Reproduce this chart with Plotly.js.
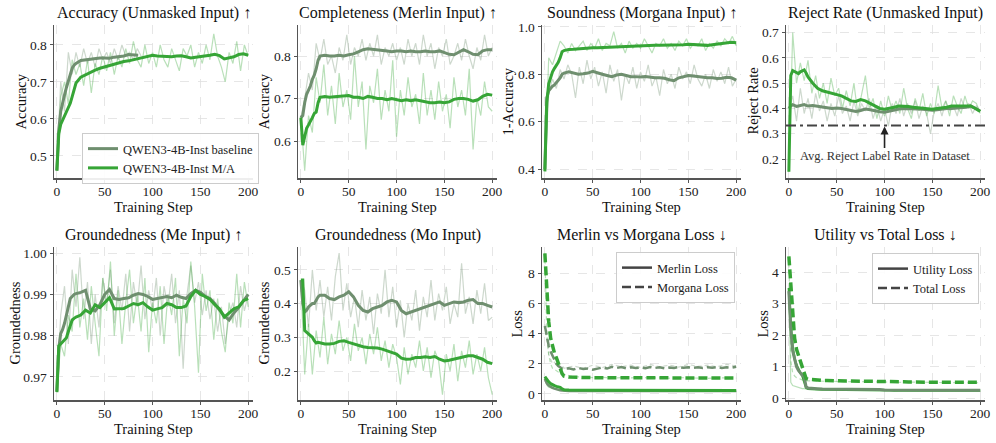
<!DOCTYPE html>
<html>
<head>
<meta charset="utf-8">
<script src="https://cdn.plot.ly/plotly-3.0.1.min.js"></script>
<style>
  html, body { margin: 0; padding: 0; background: #fff; }
  #chart { width: 996px; height: 443px; }
</style>
</head>
<body>
<div id="chart"></div>
<script>
// training steps (smoothed curves / raw curves)
const SMOOTH_STEPS = [0, 2, 4, 6, 8, 10, 12, 14, 16, 18, 20, 25, 30, 35, 40, 45, 50, 55, 60, 65, 70, 75, 80, 85, 90, 95, 100,
  105, 110, 115, 120, 125, 130, 135, 140, 145, 150, 155, 160, 165, 170, 175, 180, 185, 190, 195, 200];
const RAW_STEPS = [0, 4, 8, 12, 16, 20, 24, 28, 32, 36, 40, 44, 48, 52, 56, 60, 64, 68, 72, 76, 80, 84, 88, 92, 96, 100,
  104, 108, 112, 116, 120, 124, 128, 132, 136, 140, 144, 148, 152, 156, 160, 164, 168, 172, 176, 180, 184, 188, 192, 196, 200];
const LOSS_RAW_STEPS = [0, 2, 4, 6, 8, 10, 12, 14, 16, 18, 20, 30, 40, 50, 60, 70, 80, 90, 100, 110, 120, 130, 140, 150,
  160, 170, 180, 190, 200];

// Accuracy (Unmasked Input)
const ACC_MA = [0.46, 0.56, 0.585, 0.597, 0.608, 0.616, 0.628, 0.642, 0.66, 0.68, 0.697,
  0.713, 0.72, 0.727, 0.732, 0.737, 0.741, 0.744, 0.748, 0.751, 0.755,
  0.757, 0.76, 0.764, 0.768, 0.771, 0.772, 0.77, 0.769, 0.77, 0.768,
  0.77, 0.771, 0.768, 0.765, 0.767, 0.768, 0.77, 0.772, 0.775, 0.771,
  0.762, 0.765, 0.768, 0.774, 0.776, 0.772];
const ACC_BASE = [0.46, 0.57, 0.62, 0.645, 0.665, 0.685, 0.705, 0.722, 0.737, 0.745, 0.75,
  0.758, 0.76, 0.762, 0.763, 0.765, 0.765, 0.764, 0.767, 0.768, 0.77,
  0.774, 0.773, 0.772];
const ACC_MA_RAW = [0.46, 0.66, 0.70, 0.64, 0.76, 0.72, 0.75, 0.69, 0.76, 0.67,
  0.75, 0.72, 0.77, 0.73, 0.78, 0.72, 0.77, 0.74, 0.79, 0.75,
  0.81, 0.76, 0.74, 0.80, 0.75, 0.78, 0.74, 0.80, 0.76, 0.74,
  0.79, 0.76, 0.73, 0.79, 0.77, 0.80, 0.74, 0.78, 0.75, 0.80,
  0.76, 0.83, 0.77, 0.74, 0.70, 0.78, 0.75, 0.81, 0.73, 0.80, 0.77];
const ACC_BASE_RAW = [0.47, 0.70, 0.62, 0.78, 0.72, 0.78, 0.74, 0.79, 0.75, 0.78,
  0.74, 0.79, 0.76, 0.78, 0.75, 0.79, 0.76, 0.80, 0.77, 0.78,
  0.76, 0.79, 0.77];

// Completeness (Merlin Input)
const COMP_BASE = [0.655, 0.66, 0.69, 0.71, 0.72, 0.73, 0.745, 0.755, 0.77, 0.79, 0.80,
  0.802, 0.80, 0.80, 0.802, 0.80, 0.803, 0.805, 0.81, 0.815, 0.817,
  0.816, 0.815, 0.813, 0.812, 0.81, 0.812, 0.812, 0.81, 0.812, 0.81,
  0.81, 0.812, 0.81, 0.81, 0.812, 0.808, 0.804, 0.803, 0.81, 0.815,
  0.81, 0.804, 0.803, 0.812, 0.815, 0.815];
const COMP_MA = [0.655, 0.59, 0.61, 0.63, 0.638, 0.645, 0.655, 0.665, 0.668, 0.69, 0.703,
  0.705, 0.703, 0.704, 0.705, 0.705, 0.707, 0.703, 0.703, 0.70, 0.705,
  0.703, 0.70, 0.70, 0.697, 0.70, 0.697, 0.695, 0.697, 0.695, 0.697,
  0.695, 0.693, 0.69, 0.69, 0.692, 0.69, 0.692, 0.698, 0.70, 0.70,
  0.698, 0.694, 0.697, 0.705, 0.71, 0.708];
const COMP_BASE_RAW = [0.655, 0.70, 0.76, 0.72, 0.83, 0.79, 0.84, 0.78, 0.80, 0.76,
  0.82, 0.79, 0.85, 0.78, 0.82, 0.80, 0.84, 0.79, 0.83, 0.80,
  0.85, 0.78, 0.82, 0.80, 0.83, 0.79, 0.82, 0.78, 0.84, 0.80,
  0.83, 0.78, 0.85, 0.80, 0.83, 0.77, 0.82, 0.80, 0.84, 0.78,
  0.80, 0.83, 0.79, 0.84, 0.80, 0.77, 0.82, 0.79, 0.85, 0.80, 0.82];
const COMP_MA_RAW = [0.655, 0.53, 0.66, 0.62, 0.75, 0.69, 0.78, 0.66, 0.73, 0.64,
  0.76, 0.68, 0.72, 0.65, 0.80, 0.68, 0.74, 0.58, 0.73, 0.69,
  0.77, 0.65, 0.72, 0.67, 0.79, 0.61, 0.72, 0.66, 0.75, 0.68,
  0.71, 0.64, 0.76, 0.66, 0.72, 0.65, 0.74, 0.67, 0.71, 0.63,
  0.75, 0.68, 0.72, 0.66, 0.77, 0.58, 0.70, 0.66, 0.74, 0.68, 0.67];

// Soundness (Morgana Input)
const SOUND_MA = [0.39, 0.68, 0.76, 0.79, 0.81, 0.825, 0.835, 0.85, 0.87, 0.895, 0.90,
  0.905, 0.906, 0.908, 0.91, 0.91, 0.912, 0.912, 0.913, 0.915, 0.916,
  0.917, 0.918, 0.918, 0.919, 0.918, 0.92, 0.92, 0.921, 0.922, 0.922,
  0.922, 0.924, 0.925, 0.924, 0.925, 0.927, 0.926, 0.925, 0.924, 0.922,
  0.925, 0.928, 0.932, 0.934, 0.935, 0.933];
const SOUND_BASE = [0.40, 0.70, 0.73, 0.74, 0.75, 0.755, 0.765, 0.77, 0.785, 0.80, 0.805,
  0.81, 0.805, 0.80, 0.802, 0.805, 0.812, 0.805, 0.80, 0.795, 0.79,
  0.797, 0.80, 0.795, 0.79, 0.79, 0.788, 0.79, 0.787, 0.785, 0.785,
  0.783, 0.777, 0.773, 0.785, 0.79, 0.795, 0.793, 0.79, 0.788, 0.785,
  0.785, 0.782, 0.783, 0.787, 0.785, 0.775];
const SOUND_MA_RAW = [0.39, 0.87, 0.84, 0.89, 0.94, 0.92, 0.89, 0.93, 0.90, 0.92,
  0.94, 0.90, 0.93, 0.91, 0.95, 0.90, 0.93, 0.92, 0.98, 0.91,
  0.93, 0.89, 0.94, 0.91, 0.93, 0.91, 0.95, 0.92, 0.89, 0.93,
  0.92, 0.95, 0.91, 0.93, 0.90, 0.94, 0.92, 0.95, 0.91, 0.93,
  0.92, 0.95, 0.90, 0.93, 0.91, 0.94, 0.92, 0.95, 0.93, 0.96, 0.92];
const SOUND_BASE_RAW = [0.40, 0.72, 0.78, 0.74, 0.82, 0.78, 0.84, 0.80, 0.70, 0.83,
  0.76, 0.86, 0.78, 0.83, 0.75, 0.81, 0.72, 0.84, 0.77, 0.82,
  0.69, 0.80, 0.76, 0.83, 0.74, 0.81, 0.77, 0.84, 0.75, 0.79,
  0.71, 0.82, 0.76, 0.80, 0.74, 0.83, 0.78, 0.81, 0.76, 0.84,
  0.78, 0.75, 0.80, 0.74, 0.82, 0.77, 0.81, 0.76, 0.83, 0.75, 0.78];

// Reject Rate (Unmasked Input)
const REJECT_LABEL_RATE = 0.333;
const REJ_MA = [0.15, 0.53, 0.55, 0.545, 0.54, 0.538, 0.545, 0.55, 0.552, 0.54, 0.525,
  0.50, 0.48, 0.47, 0.465, 0.46, 0.457, 0.45, 0.44, 0.43, 0.428,
  0.435, 0.43, 0.42, 0.41, 0.40, 0.397, 0.40, 0.405, 0.41, 0.41,
  0.408, 0.405, 0.403, 0.40, 0.398, 0.397, 0.40, 0.402, 0.405, 0.41,
  0.41, 0.41, 0.412, 0.41, 0.40, 0.388];
const REJ_BASE = [0.40, 0.41, 0.415, 0.41, 0.408, 0.41, 0.412, 0.415, 0.415, 0.412, 0.41,
  0.412, 0.41, 0.405, 0.403, 0.40, 0.402, 0.40, 0.395, 0.39, 0.388,
  0.392, 0.398, 0.395, 0.39, 0.387, 0.385, 0.39, 0.395, 0.398, 0.40,
  0.40, 0.40, 0.398, 0.397, 0.395, 0.393, 0.395, 0.398, 0.40, 0.40,
  0.402, 0.405, 0.405, 0.41, 0.40, 0.39];
const REJ_MA_RAW = [0.15, 0.70, 0.50, 0.58, 0.51, 0.59, 0.46, 0.53, 0.44, 0.50,
  0.42, 0.52, 0.45, 0.48, 0.40, 0.47, 0.41, 0.50, 0.38, 0.46,
  0.53, 0.40, 0.44, 0.36, 0.43, 0.37, 0.45, 0.39, 0.43, 0.38,
  0.48, 0.40, 0.36, 0.44, 0.39, 0.46, 0.37, 0.42, 0.38, 0.49,
  0.40, 0.43, 0.37, 0.45, 0.41, 0.38, 0.45, 0.40, 0.43, 0.42, 0.38];
const REJ_BASE_RAW = [0.40, 0.45, 0.35, 0.48, 0.38, 0.44, 0.36, 0.46, 0.39, 0.43,
  0.35, 0.42, 0.37, 0.45, 0.38, 0.41, 0.35, 0.43, 0.37, 0.42,
  0.39, 0.44, 0.36, 0.41, 0.35, 0.40, 0.33, 0.42, 0.38, 0.44,
  0.37, 0.42, 0.38, 0.43, 0.36, 0.41, 0.38, 0.30, 0.39, 0.42,
  0.37, 0.43, 0.39, 0.41, 0.37, 0.44, 0.40, 0.42, 0.38, 0.41, 0.39];

// Groundedness (Me Input)
const GME_MA = [0.9663, 0.9775, 0.978, 0.9785, 0.979, 0.9795, 0.981, 0.9825, 0.9838, 0.9842, 0.9845,
  0.985, 0.9862, 0.9855, 0.9875, 0.9868, 0.988, 0.9892, 0.9865, 0.9865, 0.9866,
  0.9872, 0.9878, 0.9875, 0.988, 0.987, 0.9862, 0.9865, 0.9868, 0.9878, 0.9875,
  0.9868, 0.9868, 0.9872, 0.9895, 0.991, 0.99, 0.9895, 0.9888, 0.9875, 0.9865,
  0.9845, 0.9855, 0.9865, 0.987, 0.9885, 0.989];
const GME_BASE = [0.9665, 0.977, 0.9805, 0.9815, 0.983, 0.985, 0.987, 0.989, 0.9895, 0.99, 0.9902,
  0.9905, 0.991, 0.9865, 0.986, 0.9875, 0.99, 0.9912, 0.989, 0.9888, 0.989,
  0.9892, 0.9898, 0.9902, 0.99, 0.9895, 0.9888, 0.989, 0.9892, 0.9895, 0.9892,
  0.9898, 0.9893, 0.989, 0.9902, 0.991, 0.9905, 0.9895, 0.989, 0.9878, 0.9862,
  0.9848, 0.9838, 0.9855, 0.9868, 0.9885, 0.99];
const GME_MA_RAW = [0.9663, 0.978, 0.975, 0.985, 0.981, 0.995, 0.982, 0.989, 0.979, 0.992,
  0.983, 0.975, 0.994, 0.986, 0.998, 0.980, 0.991, 0.978, 0.988, 0.996,
  0.983, 0.990, 0.981, 0.994, 0.976, 0.988, 0.983, 0.992, 0.978, 0.990,
  0.985, 0.994, 0.975, 0.989, 0.983, 0.998, 0.987, 0.971, 0.995, 0.986,
  0.991, 0.979, 0.989, 0.981, 0.976, 0.988, 0.983, 0.995, 0.982, 0.993, 0.987];
const GME_BASE_RAW = [0.9665, 0.985, 0.992, 0.978, 0.996, 0.987, 0.999, 0.984, 0.993, 0.978,
  0.990, 0.982, 0.994, 0.988, 0.996, 0.983, 0.992, 0.986, 0.995, 0.981,
  0.993, 0.987, 0.997, 0.984, 0.991, 0.986, 0.994, 0.980, 0.992, 0.987,
  0.995, 0.983, 0.991, 0.972, 0.990, 0.997, 0.988, 0.993, 0.985, 0.991,
  0.984, 0.989, 0.981, 0.987, 0.978, 0.985, 0.988, 0.982, 0.992, 0.986, 0.990];

// Groundedness (Mo Input)
const GMO_MA = [0.47, 0.47, 0.32, 0.315, 0.31, 0.305, 0.30, 0.29, 0.283, 0.285, 0.283,
  0.28, 0.28, 0.282, 0.288, 0.29, 0.285, 0.28, 0.275, 0.272, 0.27,
  0.27, 0.268, 0.265, 0.26, 0.256, 0.25, 0.238, 0.235, 0.236, 0.24,
  0.24, 0.242, 0.24, 0.243, 0.235, 0.23, 0.232, 0.235, 0.24, 0.243,
  0.245, 0.245, 0.24, 0.235, 0.226, 0.222];
const GMO_BASE = [0.47, 0.40, 0.375, 0.38, 0.39, 0.395, 0.40, 0.40, 0.41, 0.42, 0.425,
  0.425, 0.415, 0.412, 0.42, 0.425, 0.435, 0.42, 0.395, 0.38, 0.375,
  0.385, 0.39, 0.395, 0.405, 0.41, 0.405, 0.38, 0.37, 0.375, 0.38,
  0.385, 0.39, 0.395, 0.40, 0.405, 0.395, 0.40, 0.405, 0.403, 0.405,
  0.41, 0.412, 0.40, 0.40, 0.395, 0.39];
const GMO_MA_RAW = [0.47, 0.19, 0.34, 0.19, 0.32, 0.24, 0.36, 0.22, 0.31, 0.25,
  0.35, 0.26, 0.30, 0.23, 0.34, 0.26, 0.30, 0.22, 0.31, 0.25,
  0.33, 0.23, 0.29, 0.21, 0.28, 0.24, 0.16, 0.27, 0.19, 0.25,
  0.21, 0.29, 0.20, 0.27, 0.18, 0.26, 0.23, 0.13, 0.25, 0.20,
  0.28, 0.17, 0.26, 0.21, 0.29, 0.19, 0.25, 0.20, 0.27, 0.18, 0.13];
const GMO_BASE_RAW = [0.47, 0.44, 0.33, 0.50, 0.38, 0.47, 0.36, 0.45, 0.35, 0.48,
  0.55, 0.38, 0.46, 0.36, 0.42, 0.33, 0.44, 0.35, 0.42, 0.31,
  0.43, 0.37, 0.50, 0.36, 0.45, 0.33, 0.41, 0.30, 0.40, 0.35,
  0.44, 0.32, 0.42, 0.36, 0.47, 0.35, 0.43, 0.38, 0.45, 0.34,
  0.40, 0.36, 0.52, 0.37, 0.42, 0.34, 0.44, 0.37, 0.46, 0.35, 0.36];

// Merlin vs Morgana Loss
const MORGANA_MA = [9.3, 6.8, 4.8, 3.7, 3.1, 2.7, 2.4, 2.1, 1.7, 1.35, 1.18,
  1.12, 1.1, 1.09, 1.09, 1.08, 1.08, 1.08, 1.07, 1.07, 1.07,
  1.07, 1.07, 1.06, 1.06, 1.06, 1.06, 1.06, 1.06, 1.05, 1.05,
  1.05, 1.05, 1.05, 1.05, 1.05, 1.05, 1.05, 1.05, 1.05, 1.05,
  1.05, 1.05, 1.05, 1.05, 1.05, 1.05];
const MORGANA_BASE = [4.5, 3.8, 3.2, 2.8, 2.5, 2.2, 2.0, 1.85, 1.75, 1.68, 1.65,
  1.7, 1.62, 1.72, 1.65, 1.68, 1.6, 1.7, 1.75, 1.68, 1.8,
  1.72, 1.78, 1.7, 1.76, 1.72, 1.75, 1.7, 1.78, 1.72, 1.76,
  1.7, 1.75, 1.72, 1.78, 1.73, 1.77, 1.72, 1.76, 1.71, 1.77,
  1.73, 1.78, 1.72, 1.76, 1.74, 1.8];
const MERLIN_MA = [1.15, 0.95, 0.8, 0.68, 0.6, 0.55, 0.5, 0.47, 0.44, 0.33, 0.28,
  0.26, 0.25, 0.25, 0.25, 0.24, 0.24, 0.24, 0.24, 0.24, 0.24,
  0.24, 0.24, 0.24, 0.23, 0.23, 0.23, 0.23, 0.23, 0.23, 0.23,
  0.23, 0.23, 0.23, 0.23, 0.23, 0.23, 0.23, 0.23, 0.23, 0.23,
  0.23, 0.23, 0.23, 0.23, 0.23, 0.23];
const MERLIN_BASE = [1.0, 0.7, 0.55, 0.45, 0.4, 0.35, 0.3, 0.27, 0.25, 0.22, 0.2,
  0.2, 0.2, 0.19, 0.19, 0.19, 0.19, 0.19, 0.19, 0.19, 0.19,
  0.19, 0.19, 0.19, 0.19, 0.19, 0.19, 0.19, 0.19, 0.19, 0.19,
  0.19, 0.19, 0.19, 0.19, 0.19, 0.19, 0.19, 0.19, 0.19, 0.19,
  0.19, 0.19, 0.19, 0.19, 0.19, 0.19];
const MORGANA_BASE_RAW = [4.6, 3.4, 2.6, 2.3, 2.0, 2.1, 1.9, 2.0, 1.8, 1.9, 1.7, 1.85, 1.7, 1.9, 1.75,
  1.95, 1.8, 1.9, 1.75, 1.95, 1.8, 1.9, 1.78, 1.95, 1.82, 1.9, 1.8, 1.95, 1.85];
const MORGANA_MA_RAW = [9.3, 4.0, 2.6, 2.0, 1.7, 1.6, 1.5, 1.45, 1.4, 1.35, 1.3, 1.15, 1.1, 1.08, 1.1,
  1.05, 1.08, 1.06, 1.1, 1.05, 1.07, 1.04, 1.08, 1.05, 1.06, 1.03, 1.07, 1.04, 1.05];
const MERLIN_MA_RAW = [1.1, 0.6, 0.45, 0.4, 0.35, 0.33, 0.3, 0.28, 0.27, 0.25, 0.22, 0.2, 0.19, 0.2, 0.18,
  0.19, 0.2, 0.18, 0.19, 0.18, 0.19, 0.17, 0.18, 0.19, 0.18, 0.17, 0.18, 0.17, 0.18];

// Utility vs Total Loss
const TOTAL_MA = [4.5, 3.6, 2.4, 1.9, 1.55, 1.35, 1.15, 1.0, 0.78, 0.62, 0.6,
  0.58, 0.57, 0.56, 0.56, 0.55, 0.55, 0.54, 0.54, 0.54, 0.54,
  0.53, 0.53, 0.53, 0.53, 0.53, 0.52, 0.52, 0.52, 0.52, 0.52,
  0.51, 0.51, 0.51, 0.51, 0.51, 0.5, 0.5, 0.5, 0.5, 0.5,
  0.5, 0.5, 0.5, 0.5, 0.5, 0.5];
const UTIL_BASE = [3.4, 2.2, 1.5, 1.2, 1.0, 0.88, 0.8, 0.73, 0.68, 0.36, 0.32,
  0.3, 0.3, 0.29, 0.29, 0.28, 0.28, 0.28, 0.28, 0.27, 0.27,
  0.27, 0.27, 0.27, 0.27, 0.27, 0.26, 0.26, 0.26, 0.26, 0.26,
  0.26, 0.26, 0.25, 0.25, 0.25, 0.25, 0.25, 0.25, 0.25, 0.25,
  0.25, 0.25, 0.25, 0.25, 0.25, 0.25];
const UTIL_MA = [3.5, 2.3, 1.6, 1.25, 1.05, 0.9, 0.8, 0.72, 0.55, 0.33, 0.3,
  0.28, 0.28, 0.27, 0.27, 0.27, 0.26, 0.26, 0.26, 0.26, 0.26,
  0.25, 0.25, 0.25, 0.25, 0.25, 0.25, 0.25, 0.24, 0.24, 0.24,
  0.24, 0.24, 0.24, 0.24, 0.24, 0.24, 0.24, 0.24, 0.24, 0.24,
  0.24, 0.24, 0.24, 0.24, 0.24, 0.24];
const UTIL_MA_RAW = [3.5, 0.5, 0.4, 0.38, 0.35, 0.33, 0.32, 0.3, 0.3, 0.28, 0.28, 0.27, 0.26, 0.27, 0.25,
  0.26, 0.25, 0.24, 0.25, 0.24, 0.25, 0.23, 0.24, 0.23, 0.24, 0.23, 0.22, 0.23, 0.22];
const TOTAL_MA_RAW = [4.5, 1.2, 0.8, 0.7, 0.65, 0.62, 0.6, 0.58, 0.56, 0.55, 0.55, 0.54, 0.53, 0.54, 0.52,
  0.53, 0.52, 0.51, 0.52, 0.51, 0.5, 0.51, 0.5, 0.49, 0.5, 0.49, 0.5, 0.48, 0.49];

const BASE_LABEL = "QWEN3-4B-Inst baseline";
const MA_LABEL = "QWEN3-4B-Inst M/A";

// Farben
const BASE_COLOR = "#6f8f6f";
const MA_COLOR = "#36a536";
const DARK = "#444444";
const FONT = "Liberation Serif, Times New Roman, serif";

const axRef = (i) => (i === 1 ? "" : String(i));

function raw(i, x, y, color, extra = {}) {
  return {
    type: "scatter", mode: "lines", x, y,
    xaxis: "x" + axRef(i), yaxis: "y" + axRef(i),
    line: { color, width: 1.2, ...(extra.line || {}) },
    opacity: 0.35, showlegend: false, hoverinfo: "skip",
  };
}

function smooth(i, x, y, color, width = 3, dash = "solid", legendOpts = null) {
  const t = {
    type: "scatter", mode: "lines", x, y,
    xaxis: "x" + axRef(i), yaxis: "y" + axRef(i),
    line: { color, width, dash },
    showlegend: false,
  };
  if (legendOpts) Object.assign(t, legendOpts);
  return t;
}

const DASH = "9px,4px";

const traces = [
  // 1 Accuracy
  raw(1, RAW_STEPS.slice(0, ACC_BASE_RAW.length), ACC_BASE_RAW, BASE_COLOR),
  raw(1, RAW_STEPS, ACC_MA_RAW, MA_COLOR),
  smooth(1, SMOOTH_STEPS.slice(0, ACC_BASE.length), ACC_BASE, BASE_COLOR, 3, "solid", { name: BASE_LABEL, showlegend: true, legend: "legend" }),
  smooth(1, SMOOTH_STEPS, ACC_MA, MA_COLOR, 3, "solid", { name: MA_LABEL, showlegend: true, legend: "legend" }),
  // 2 Completeness
  raw(2, RAW_STEPS, COMP_BASE_RAW, BASE_COLOR),
  raw(2, RAW_STEPS, COMP_MA_RAW, MA_COLOR),
  smooth(2, SMOOTH_STEPS, COMP_BASE, BASE_COLOR),
  smooth(2, SMOOTH_STEPS, COMP_MA, MA_COLOR),
  // 3 Soundness
  raw(3, RAW_STEPS, SOUND_BASE_RAW, BASE_COLOR),
  raw(3, RAW_STEPS, SOUND_MA_RAW, MA_COLOR),
  smooth(3, SMOOTH_STEPS, SOUND_BASE, BASE_COLOR),
  smooth(3, SMOOTH_STEPS, SOUND_MA, MA_COLOR),
  // 4 Reject rate
  raw(4, RAW_STEPS, REJ_BASE_RAW, BASE_COLOR),
  raw(4, RAW_STEPS, REJ_MA_RAW, MA_COLOR),
  smooth(4, SMOOTH_STEPS, REJ_BASE, BASE_COLOR),
  smooth(4, SMOOTH_STEPS, REJ_MA, MA_COLOR),
  // 5 Groundedness Me
  raw(5, RAW_STEPS, GME_BASE_RAW, BASE_COLOR),
  raw(5, RAW_STEPS, GME_MA_RAW, MA_COLOR),
  smooth(5, SMOOTH_STEPS, GME_BASE, BASE_COLOR),
  smooth(5, SMOOTH_STEPS, GME_MA, MA_COLOR),
  // 6 Groundedness Mo
  raw(6, RAW_STEPS, GMO_BASE_RAW, BASE_COLOR),
  raw(6, RAW_STEPS, GMO_MA_RAW, MA_COLOR),
  smooth(6, SMOOTH_STEPS, GMO_BASE, BASE_COLOR),
  smooth(6, SMOOTH_STEPS, GMO_MA, MA_COLOR),
  // 7 Merlin vs Morgana
  raw(7, LOSS_RAW_STEPS, MORGANA_BASE_RAW, BASE_COLOR, { line: { dash: "4px,3px" } }),
  raw(7, LOSS_RAW_STEPS, MORGANA_MA_RAW, MA_COLOR, { line: { dash: "4px,3px" } }),
  raw(7, LOSS_RAW_STEPS, MERLIN_MA_RAW, MA_COLOR),
  smooth(7, SMOOTH_STEPS, MORGANA_BASE, BASE_COLOR, 2.5, DASH),
  smooth(7, SMOOTH_STEPS, MERLIN_BASE, BASE_COLOR, 2.5),
  smooth(7, SMOOTH_STEPS, MORGANA_MA, MA_COLOR, 3.5, DASH),
  smooth(7, SMOOTH_STEPS, MERLIN_MA, MA_COLOR, 3),
  smooth(7, [null], [null], DARK, 2.5, "solid", { name: "Merlin Loss", showlegend: true, legend: "legend2" }),
  smooth(7, [null], [null], DARK, 2.5, DASH, { name: "Morgana Loss", showlegend: true, legend: "legend2" }),
  // 8 Utility vs Total
  raw(8, LOSS_RAW_STEPS, UTIL_MA_RAW, MA_COLOR),
  raw(8, LOSS_RAW_STEPS, TOTAL_MA_RAW, MA_COLOR, { line: { dash: "4px,3px" } }),
  smooth(8, SMOOTH_STEPS, UTIL_MA, MA_COLOR, 2.5),
  smooth(8, SMOOTH_STEPS, UTIL_BASE, BASE_COLOR, 3),
  smooth(8, SMOOTH_STEPS, TOTAL_MA, MA_COLOR, 3.5, DASH),
  smooth(8, [null], [null], DARK, 2.5, "solid", { name: "Utility Loss", showlegend: true, legend: "legend3" }),
  smooth(8, [null], [null], DARK, 2.5, DASH, { name: "Total Loss", showlegend: true, legend: "legend3" }),
];

// Panels: titel, y-label, y-range, ticks
const PANELS = [
  { title: "Accuracy (Unmasked Input) ↑", ylabel: "Accuracy", range: [0.44, 0.854], ticks: [0.5, 0.6, 0.7, 0.8], fmt: ".1f", lab: 34 },
  { title: "Completeness (Merlin Input) ↑", ylabel: "Accuracy", range: [0.513, 0.873], ticks: [0.6, 0.7, 0.8], fmt: ".1f", lab: 35 },
  { title: "Soundness (Morgana Input) ↑", ylabel: "1-Accuracy", range: [0.362, 1.008], ticks: [0.4, 0.6, 0.8, 1.0], fmt: ".1f", lab: 35 },
  { title: "Reject Rate (Unmasked Input)", ylabel: "Reject Rate", range: [0.125, 0.73], ticks: [0.2, 0.3, 0.4, 0.5, 0.6, 0.7], fmt: ".1f", lab: 34 },
  { title: "Groundedness (Me Input) ↑", ylabel: "Groundedness", range: [0.9644, 1.0015], ticks: [0.97, 0.98, 0.99, 1.0], fmt: ".2f", lab: 40 },
  { title: "Groundedness (Mo Input)", ylabel: "Groundedness", range: [0.114, 0.568], ticks: [0.2, 0.3, 0.4, 0.5], fmt: ".1f", lab: 35 },
  { title: "Merlin vs Morgana Loss ↓", ylabel: "Loss", range: [-0.4, 9.72], ticks: [0, 2, 4, 6, 8], fmt: "d", lab: 26 },
  { title: "Utility vs Total Loss ↓", ylabel: "Loss", range: [-0.06, 4.8], ticks: [0, 1, 2, 3, 4], fmt: "d", lab: 24 },
];

const W = 996, H = 443;
const COL_LEFT = [54, 298, 542, 786];
const PLOT_W = 199;
const ROWS = [[25, 178], [247, 400]];

const legendStyle = {
  xanchor: "left", yanchor: "top",
  bgcolor: "rgba(255,255,255,0.9)", bordercolor: "#cccccc", borderwidth: 1,
  font: { family: FONT, size: 12.5, color: "#222" }, tracegroupgap: 0,
};

const layout = {
  width: W, height: H,
  margin: { l: 0, r: 0, t: 0, b: 0 },
  paper_bgcolor: "white", plot_bgcolor: "white",
  font: { family: FONT, color: "#222", size: 13.5 },
  annotations: [],
  shapes: [],
  legend: { ...legendStyle, x: 82 / W, y: 1 - 133 / H },
  legend2: { ...legendStyle, x: 616 / W, y: 1 - 252 / H },
  legend3: { ...legendStyle, x: 872 / W, y: 1 - 253 / H },
};

const axisCommon = {
  showline: true, linecolor: "#555", linewidth: 1.5,
  ticks: "outside", ticklen: 3, tickcolor: "#555", tickwidth: 1,
  showgrid: true, gridcolor: "#e0e0e0", griddash: "dash", gridwidth: 0.8,
  zeroline: false, automargin: false,
  tickfont: { family: FONT, size: 13.5, color: "#222" },
};

PANELS.forEach((p, k) => {
  const i = k + 1;
  const col = k % 4, row = Math.floor(k / 4);
  const n = axRef(i);
  const [top, bottom] = ROWS[row];
  layout["xaxis" + n] = {
    ...axisCommon,
    domain: [COL_LEFT[col] / W, (COL_LEFT[col] + PLOT_W) / W],
    anchor: "y" + n,
    range: [-3, 205],
    tickvals: [0, 50, 100, 150, 200],
    ticklabelstandoff: -3,
  };
  layout["yaxis" + n] = {
    ...axisCommon,
    domain: [1 - bottom / H, 1 - top / H],
    anchor: "x" + n,
    range: p.range,
    tickvals: p.ticks,
    tickformat: p.fmt,
  };
  // Titel
  layout.annotations.push({
    text: p.title, xref: "x" + n + " domain", yref: "y" + n + " domain",
    x: 0.5, y: 1, xanchor: "center", yanchor: "bottom", yshift: 1, showarrow: false,
    font: { family: FONT, size: 16, color: "#111" },
  });
  // y label
  layout.annotations.push({
    text: p.ylabel, xref: "x" + n + " domain", yref: "y" + n + " domain",
    x: 0, y: 0.5, xanchor: "center", yanchor: "middle", xshift: -p.lab,
    textangle: -90, showarrow: false,
    font: { family: FONT, size: 14.5, color: "#111" },
  });
  // x label
  layout.annotations.push({
    text: "Training Step", xref: "x" + n + " domain", yref: "y" + n + " domain",
    x: 0.5, y: 0, xanchor: "center", yanchor: "middle", yshift: -29, showarrow: false,
    font: { family: FONT, size: 14.5, color: "#111" },
  });
});

// Reject label rate line + arrow
layout.shapes.push({
  type: "line", xref: "x4 domain", yref: "y4",
  x0: 0, x1: 1, y0: REJECT_LABEL_RATE, y1: REJECT_LABEL_RATE,
  line: { color: DARK, width: 2, dash: "10px,4px,3px,4px" },
});
layout.annotations.push({
  text: "Avg. Reject Label Rate in Dataset", xref: "x4", yref: "y4",
  x: 100, y: REJECT_LABEL_RATE, ax: 0, ay: 31,
  showarrow: true, arrowhead: 2, arrowsize: 1, arrowwidth: 1.6, arrowcolor: "#222",
  standoff: 1, font: { family: FONT, size: 12.5, color: "#333" },
});

Plotly.newPlot("chart", traces, layout, { displayModeBar: false, staticPlot: true });
</script>
</body>
</html>
